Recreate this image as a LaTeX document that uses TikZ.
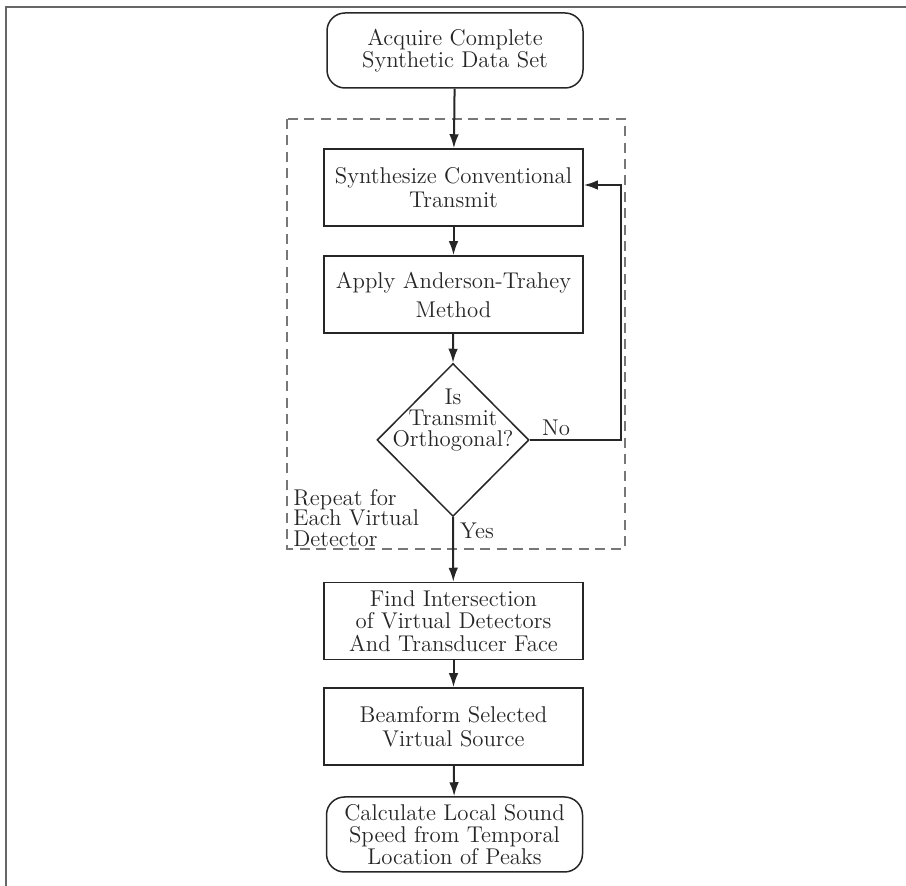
\documentclass[tikz,border=0pt]{standalone}
\usetikzlibrary{shapes.geometric,arrows.meta}
\definecolor{ink}{HTML}{262626}
\definecolor{framec}{HTML}{666666}
\definecolor{dashc}{HTML}{777777}
\tikzset{
  box/.style={draw=ink, line width=0.75pt, minimum width=129.5pt, minimum height=38.5pt,
    align=center, text=ink, inner sep=0pt, font=\fontsize{11.4}{11.4}\selectfont},
  rbox/.style={box, minimum width=128pt, rounded corners=9pt},
  lbl/.style={text=ink, inner sep=0pt, font=\fontsize{11.4}{10.3}\selectfont},
  arr/.style={draw=ink, line width=1pt, -{Latex[length=7pt,width=4.8pt]}},
}
\begin{document}
\begin{tikzpicture}[x=0.5pt,y=-0.5pt]
\useasboundingbox (0,0) rectangle (906,886);
% frame (top and left edges)
\draw[framec, line width=1.1pt] (906,7) -- (6,7) -- (6,886);
% dashed loop region
\draw[dashc, line width=0.75pt, dash pattern=on 5pt off 3.2pt] (287,119) rectangle (625,549);
% nodes
\node[rbox, minimum height=37.5pt, font=\fontsize{11.4}{11.2}\selectfont] (start) at (455,50.5) {Acquire Complete\\Synthetic Data Set};
\node[box, font=\fontsize{11.4}{12}\selectfont] (s1) at (453.5,187.5) {Synthesize Conventional\\Transmit};
\node[box, font=\fontsize{11.4}{14.5}\selectfont] (s2) at (453.5,294.5) {Apply Anderson-Trahey\\Method};
\node[diamond, draw=ink, line width=0.75pt, minimum width=76pt, minimum height=76.5pt, inner sep=0pt] (dec) at (453,440) {};
\node[lbl, align=center, font=\fontsize{11.4}{10.5}\selectfont] (dect) at (453,420) {Is\\Transmit\\Orthogonal?};
\node[box, font=\fontsize{11.4}{11.2}\selectfont] (s3) at (453.5,621) {Find Intersection\\of Virtual Detectors\\And Transducer Face};
\node[box, font=\fontsize{11.4}{12}\selectfont] (s4) at (453.5,726.5) {Beamform Selected\\Virtual Source};
\node[rbox, minimum height=37.5pt, font=\fontsize{11.4}{10.8}\selectfont] (end) at (454.5,834.5) {Calculate Local Sound\\Speed from Temporal\\Location of Peaks};
% labels
\node[lbl, align=left, anchor=west] (rep) at (293,518) {Repeat for\\Each Virtual\\Detector};
\node[lbl] (no) at (556,428) {No};
\node[lbl] (yes) at (477,531) {Yes};
% connectors
\draw[arr] (start) -- (s1);
\draw[arr] (s1) -- (s2);
\draw[arr] (s2) -- (dec.north);
\draw[arr] (dec.south) -- (s3);
\draw[arr] (s3) -- (s4);
\draw[arr] (s4) -- (end);
\coordinate (c1) at (621,440);
\coordinate (c2) at (621,185);
\draw[arr] (dec.east) -- (c1) -- (c2) -- (s1.east |- c2);
\end{tikzpicture}
\end{document}
